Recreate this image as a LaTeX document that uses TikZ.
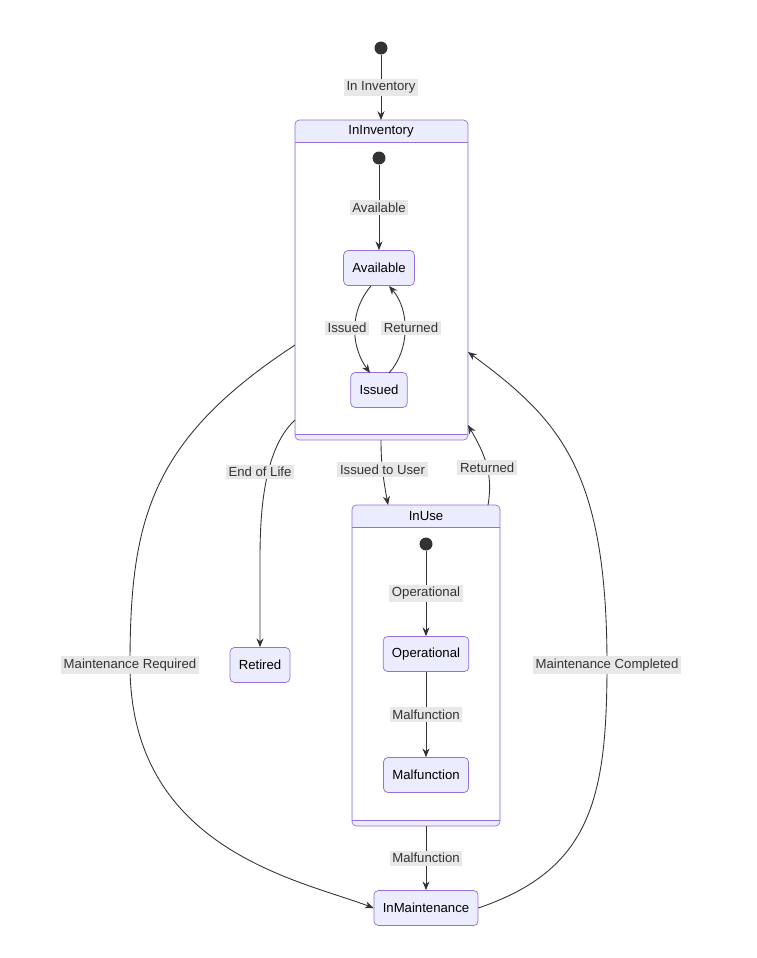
\documentclass[tikz,border=0pt]{standalone}
\usepackage{fontspec}
\setmainfont{Liberation Sans}
\usetikzlibrary{positioning,arrows.meta}
\definecolor{stfill}{HTML}{ECECFF}
\definecolor{stline}{HTML}{9370DB}
\definecolor{lblbg}{HTML}{E8E8E8}
\definecolor{ink}{HTML}{333333}
\tikzset{
  state/.style={draw=stline, fill=stfill, rounded corners=2.5pt, minimum height=0.7cm, inner xsep=5pt, font=\fontsize{7.5}{9}\selectfont, text=black},
  startdot/.style={circle, fill=ink, minimum size=0.26cm, inner sep=0pt},
  lbl/.style={fill=lblbg, inner sep=1.5pt, font=\fontsize{7.5}{9}\selectfont, text=ink},
  trans/.style={draw=ink, -{Stealth[length=5pt,width=4pt]}, line width=0.5pt},
}
\begin{document}
\begin{tikzpicture}[x=0.02cm, y=-0.02cm]
    \useasboundingbox (0,0) rectangle (757,958);
    % Composite states
    \draw[stline, fill=stfill, rounded corners=2.5pt] (295,120) rectangle (468,440);
    \fill[white] (296,143) rectangle (467,434);
    \draw[stline] (295,142) -- (468,142);
    \draw[stline] (295,434) -- (468,434);
    \node[font=\fontsize{7.5}{9}\selectfont] (InvTitle) at (381,131) {InInventory};
    \node[inner sep=0pt, minimum width=173*0.02cm, minimum height=320*0.02cm] (InInventory) at (381.5,280) {};
    \draw[stline, fill=stfill, rounded corners=2.5pt] (352,505) rectangle (500,826);
    \fill[white] (353,528) rectangle (499,820);
    \draw[stline] (352,527) -- (500,527);
    \draw[stline] (352,820) -- (500,820);
    \node[font=\fontsize{7.5}{9}\selectfont] (UseTitle) at (426,516) {InUse};
    \node[inner sep=0pt, minimum width=148*0.02cm, minimum height=321*0.02cm] (InUse) at (426,665.5) {};
    % Simple states
    \node[startdot] (Start) at (381,48) {};
    \node[startdot] (InvStart) at (379,158) {};
    \node[state] (Available) at (379,268) {Available};
    \node[state] (Issued) at (379,390) {Issued};
    \node[startdot] (UseStart) at (426,544) {};
    \node[state] (Operational) at (426,654) {Operational};
    \node[state] (Malfunction) at (426,775) {Malfunction};
    \node[state] (Retired) at (260,665) {Retired};
    \node[state] (InMaintenance) at (426,908) {InMaintenance};
    % Transitions
    \draw[trans] (Start) -- node[lbl] {In Inventory} (381,120);
    \draw[trans] (InvStart) -- node[lbl] {Available} (Available);
    \draw[trans] (371,286) .. controls (350,310) and (350,345) .. (370,373);
    \node[lbl] (IssuedLbl) at (347,328) {Issued};
    \draw[trans] (389,373) .. controls (410,350) and (410,310) .. (389,286);
    \node[lbl] (ReturnedLbl) at (411,328) {Returned};
    \draw[trans] (381,440) to[out=270, in=100] node[lbl, pos=0.45] {Issued to User} (388,505);
    \draw[trans] (488,505) to[out=80, in=300] node[lbl, pos=0.45] {Returned} (468,425);
    \draw[trans] (295,420) .. controls (262,450) and (260,520) .. (260,560) -- (Retired.north);
    \node[lbl] (EolLbl) at (260,472) {End of Life};
    \draw[trans] (295,345) .. controls (150,440) and (130,520) .. (130,665) node[lbl] {Maintenance Required} .. controls (130,850) and (300,880) .. (InMaintenance.west);
    \draw[trans] (InMaintenance.east) .. controls (590,870) and (607,800) .. (607,665) node[lbl] {Maintenance Completed} .. controls (607,470) and (560,420) .. (468,352);
    \draw[trans] (UseStart) -- node[lbl] {Operational} (Operational);
    \draw[trans] (Operational) -- node[lbl] {Malfunction} (Malfunction);
    \draw[trans] (426,826) -- node[lbl] {Malfunction} (InMaintenance);
\end{tikzpicture}
\end{document}
